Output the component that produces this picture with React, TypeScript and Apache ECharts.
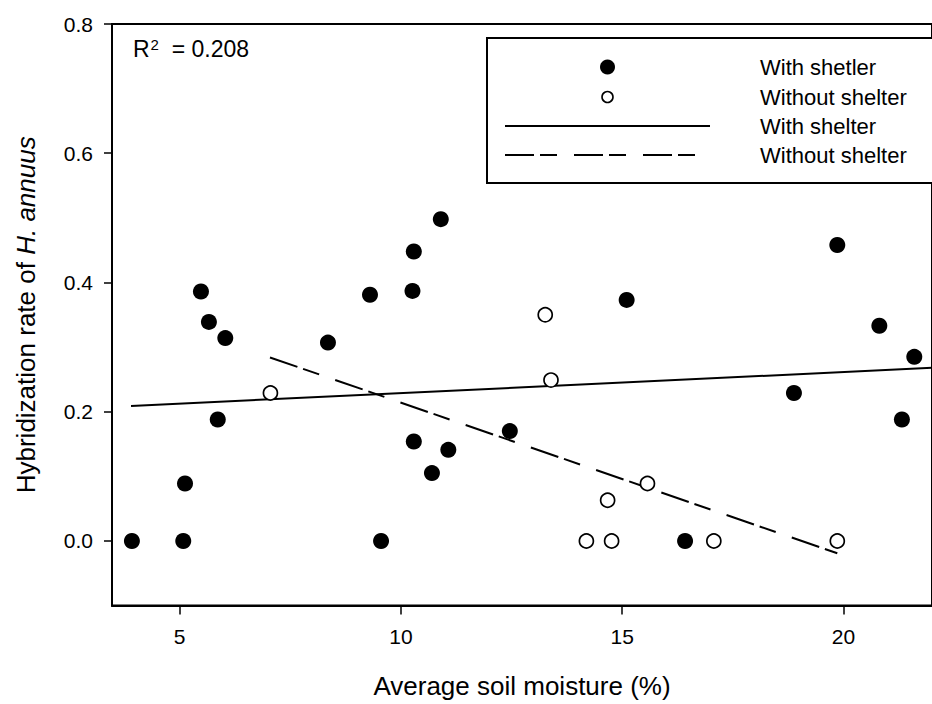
import React, { useEffect, useRef } from "react";
import * as echarts from "echarts";

const withShelterX = [3.92, 5.08, 5.12, 5.48, 5.66, 5.86, 6.03, 8.35, 9.3, 9.55, 10.26, 10.29, 10.29, 10.7, 10.9, 11.07, 12.46, 15.1, 16.42, 18.88, 19.86, 20.81, 21.32, 21.6];
const withShelterY = [0, 0, 0.089, 0.386, 0.339, 0.188, 0.314, 0.307, 0.381, 0, 0.387, 0.448, 0.154, 0.105, 0.498, 0.141, 0.17, 0.373, 0, 0.229, 0.458, 0.333, 0.188, 0.285];
const withoutShelterX = [7.05, 13.26, 13.39, 14.19, 14.67, 14.76, 15.57, 17.07, 19.86];
const withoutShelterY = [0.229, 0.35, 0.249, 0, 0.063, 0, 0.089, 0, 0];
const fitWithX = [3.9, 22];
const fitWithY = [0.209, 0.268];
const fitWithoutX = [7.04, 19.86];
const fitWithoutY = [0.284, -0.019];
const xTicks = [5, 10, 15, 20];
const yTicks = [0, 0.2, 0.4, 0.6, 0.8];
const legendLabels = ["With shetler", "Without shelter", "With shelter", "Without shelter"];
const r2Value = "0.208";

const FONT = "'Liberation Sans', Arial, Helvetica, sans-serif";
const zip = (xs: number[], ys: number[]) => xs.map((x, i) => [x, ys[i]]);
const DASH = [29, 6, 17, 17];

export default function App() {
  const ref = useRef<HTMLDivElement>(null);
  useEffect(() => {
    if (!ref.current) return;
    const chart = echarts.init(ref.current, null, { renderer: "svg" });
    const rowY = [67, 97, 126, 155];
    chart.setOption({
      animation: false,
      backgroundColor: "#fff",
      grid: {
        left: 112,
        top: 24,
        width: 832,
        height: 581.6,
        show: true,
        borderColor: "#000",
        borderWidth: 2,
        backgroundColor: "transparent",
      },
      xAxis: {
        type: "value",
        min: 3.47,
        max: 22,
        splitLine: { show: false },
        axisLine: { show: true, onZero: false, lineStyle: { color: "#000", width: 2 } },
        axisTick: { show: true, length: 9, lineStyle: { color: "#000", width: 1.5 }, customValues: xTicks },
        axisLabel: { customValues: xTicks, color: "#000", fontSize: 21, fontFamily: FONT, margin: 20 },
        name: "Average soil moisture (%)",
        nameLocation: "middle",
        nameGap: 67,
        nameTextStyle: { color: "#000", fontSize: 26, fontFamily: FONT },
      },
      yAxis: {
        type: "value",
        min: -0.1,
        max: 0.8,
        splitLine: { show: false },
        axisLine: { show: true, onZero: false, lineStyle: { color: "#000", width: 2 } },
        axisTick: { show: true, length: 8, lineStyle: { color: "#000", width: 1.5 }, customValues: yTicks },
        axisLabel: {
          customValues: yTicks,
          color: "#000",
          fontSize: 21,
          fontFamily: FONT,
          margin: 19,
          formatter: (v: number) => v.toFixed(1),
        },
        name: "Hybridization rate of {i|H. annuus}",
        nameLocation: "middle",
        nameGap: 73,
        nameTextStyle: {
          color: "#000",
          fontSize: 26,
          fontFamily: FONT,
          rich: { i: { fontStyle: "italic", fontSize: 26, fontFamily: FONT, color: "#000" } },
        },
      },
      series: [
        {
          name: "With shelter fit",
          type: "line",
          data: zip(fitWithX, fitWithY),
          showSymbol: false,
          symbol: "none",
          lineStyle: { color: "#000", width: 2 },
          clip: true,
          z: 2,
        },
        {
          name: "Without shelter fit",
          type: "line",
          data: zip(fitWithoutX, fitWithoutY),
          showSymbol: false,
          symbol: "none",
          lineStyle: { color: "#000", width: 2, type: DASH },
          clip: true,
          z: 2,
        },
        {
          name: "With shetler",
          type: "scatter",
          data: zip(withShelterX, withShelterY),
          symbol: "circle",
          symbolSize: 16,
          itemStyle: { color: "#000", opacity: 1 },
          clip: true,
          z: 3,
        },
        {
          name: "Without shelter",
          type: "scatter",
          data: zip(withoutShelterX, withoutShelterY),
          symbol: "circle",
          symbolSize: 14,
          itemStyle: { color: "#fff", borderColor: "#000", borderWidth: 1.7, opacity: 1 },
          clip: true,
          z: 3,
        },
      ],
      graphic: [
        {
          type: "text",
          left: 133,
          top: 37,
          style: {
            text: "R{s|2}  = " + r2Value,
            fill: "#000",
            fontSize: 23,
            fontFamily: FONT,
            rich: {
              s: { fontSize: 15, fontFamily: FONT, fill: "#000", verticalAlign: "top", padding: [0, 0, 9, 1] },
            },
          },
          z: 10,
        },
        {
          type: "rect",
          shape: { x: 487, y: 38, width: 520, height: 145 },
          style: { fill: "#fff", stroke: "#000", lineWidth: 2 },
          z: 10,
        },
        {
          type: "circle",
          shape: { cx: 607.5, cy: rowY[0], r: 7.5 },
          style: { fill: "#000" },
          z: 11,
        },
        {
          type: "circle",
          shape: { cx: 607.5, cy: rowY[1], r: 5.5 },
          style: { fill: "#fff", stroke: "#000", lineWidth: 1.6 },
          z: 11,
        },
        {
          type: "line",
          shape: { x1: 505, y1: rowY[2], x2: 710, y2: rowY[2] },
          style: { stroke: "#000", lineWidth: 2 },
          z: 11,
        },
        {
          type: "line",
          shape: { x1: 505, y1: rowY[3], x2: 710, y2: rowY[3] },
          style: { stroke: "#000", lineWidth: 2, lineDash: DASH },
          z: 11,
        },
        ...legendLabels.map((t, i) => ({
          type: "text",
          x: 760,
          y: rowY[i],
          style: {
            text: t,
            fill: "#000",
            fontSize: 22,
            fontFamily: FONT,
            verticalAlign: "middle",
            align: "left",
          },
          z: 11,
        })),
      ],
    });
    return () => chart.dispose();
  }, []);
  return (
    <div
      ref={ref}
      style={{ position: "absolute", left: 0, top: 0, width: 932, height: 704, background: "#fff" }}
    />
  );
}
